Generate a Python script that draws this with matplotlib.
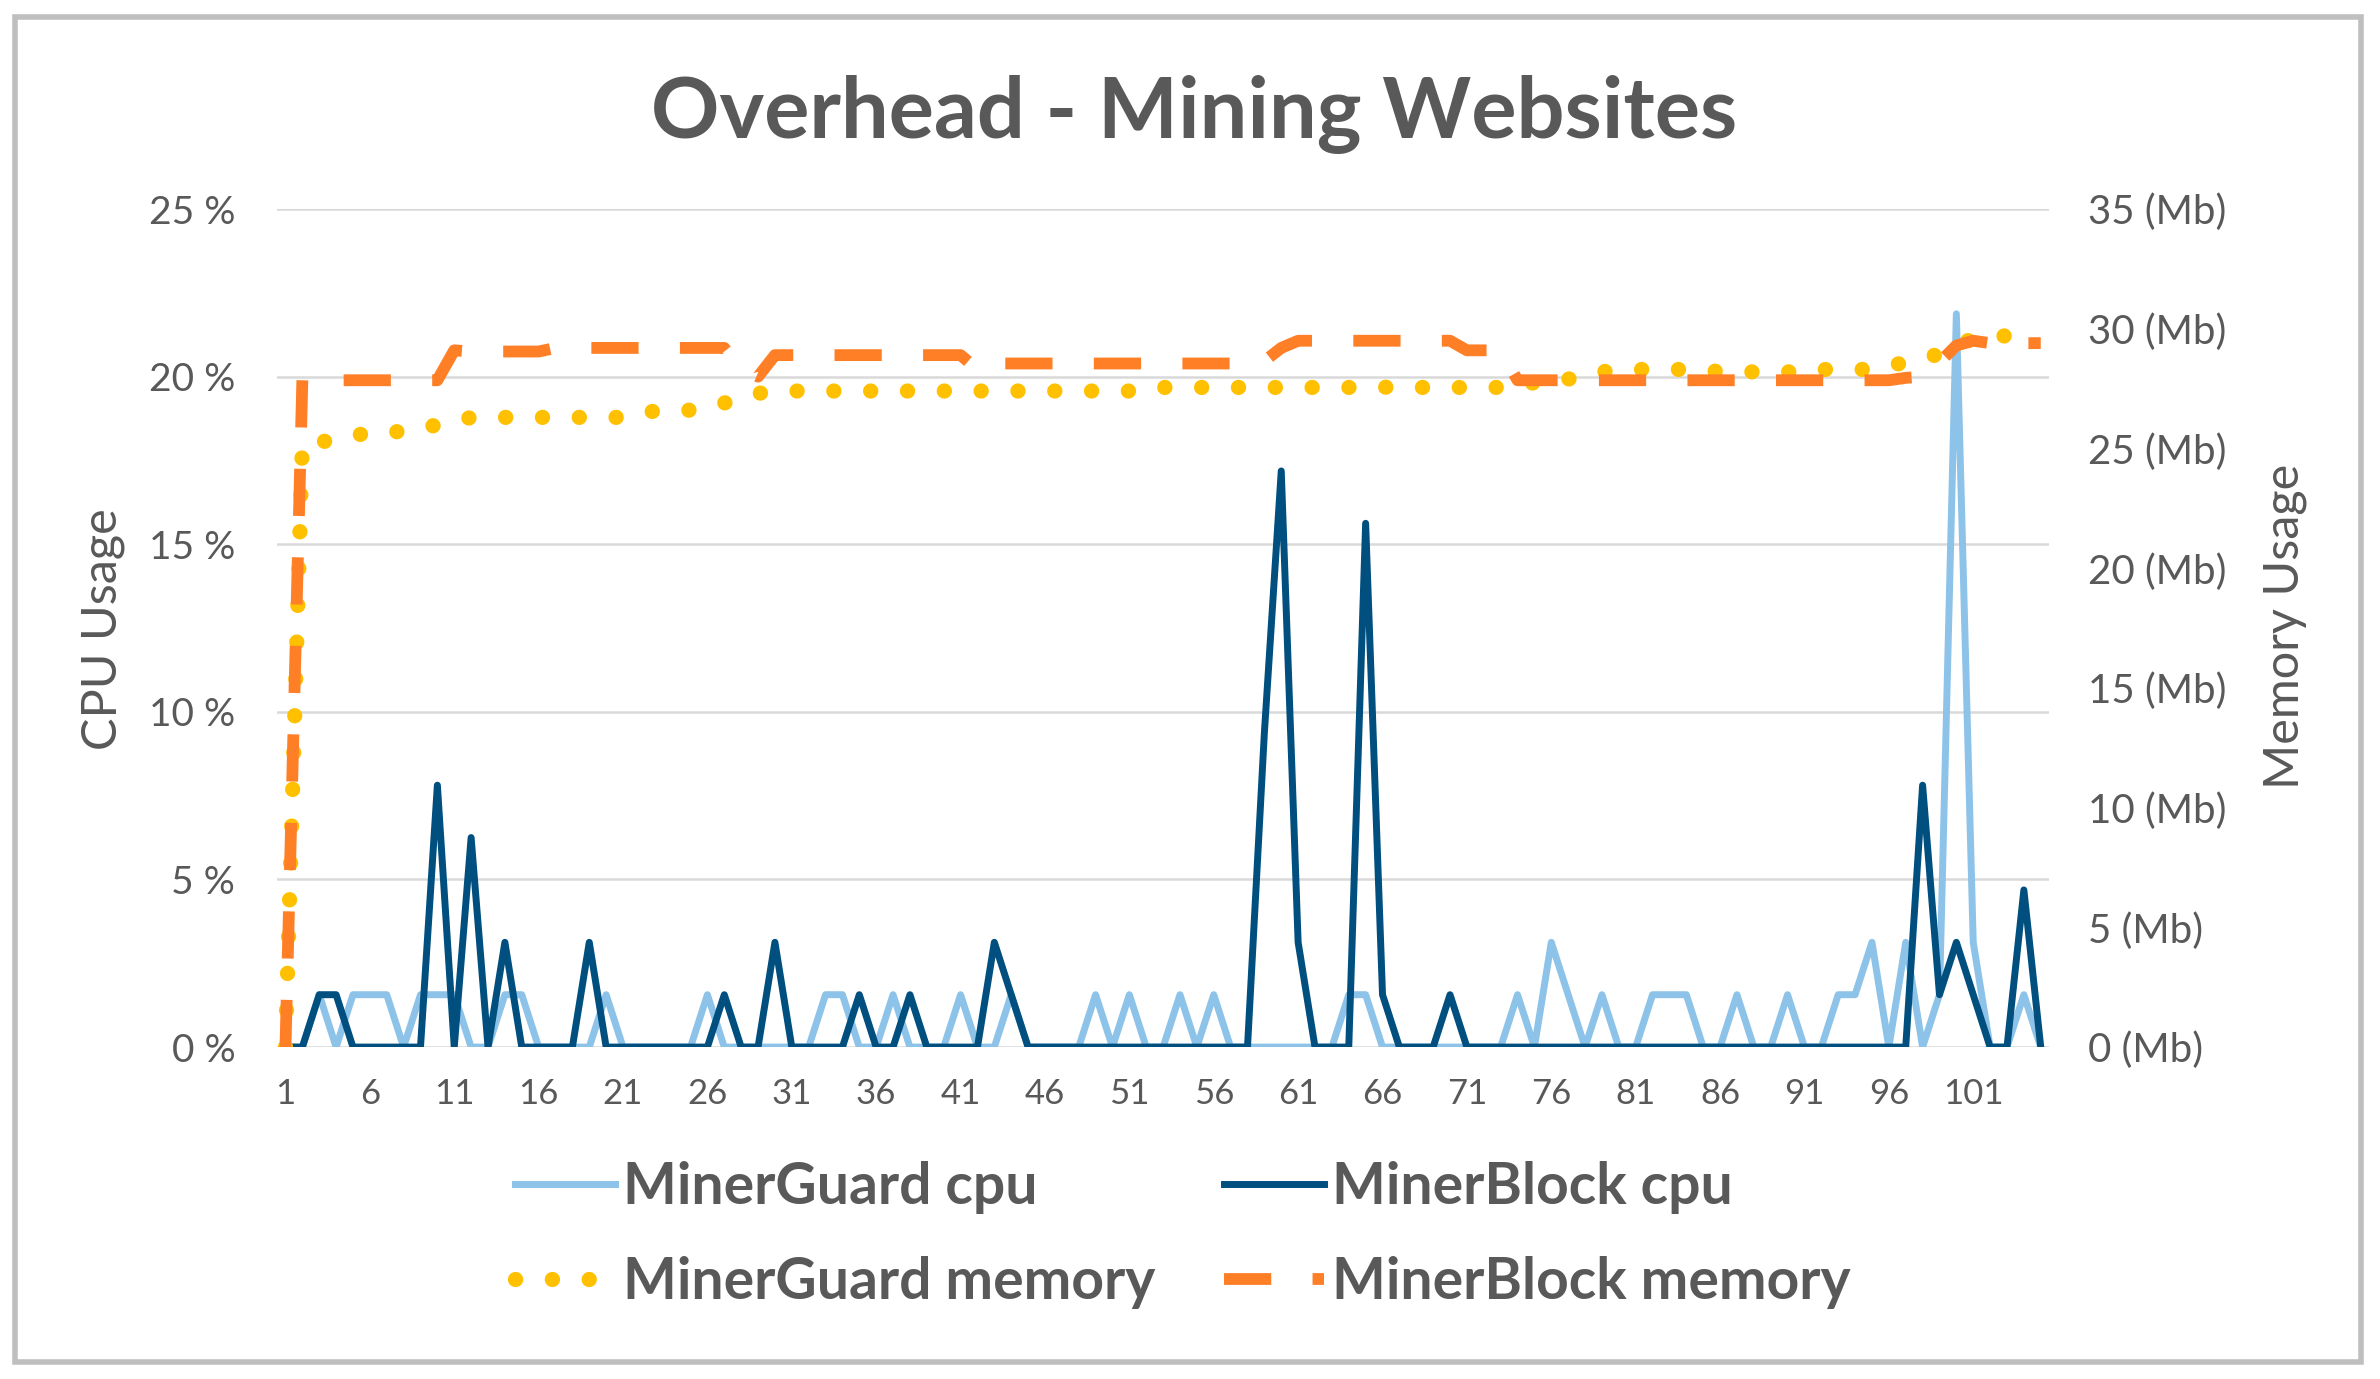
import matplotlib
matplotlib.use("Agg")
import matplotlib.pyplot as plt
from matplotlib.patches import Rectangle

# data (x = run number 1..105)
runs = list(range(1, 106))

guard_cpu = [0, 0, 1.5625, 0, 1.5625, 1.5625, 1.5625, 0, 1.5625, 1.5625,
             1.5625, 0, 0, 1.5625, 1.5625, 0, 0, 0, 0, 1.5625,
             0, 0, 0, 0, 0, 1.5625, 0, 0, 0, 0,
             0, 0, 1.5625, 1.5625, 0, 0, 1.5625, 0, 0, 0,
             1.5625, 0, 0, 1.5625, 0, 0, 0, 0, 1.5625, 0,
             1.5625, 0, 0, 1.5625, 0, 1.5625, 0, 0, 0, 0,
             0, 0, 0, 1.5625, 1.5625, 0, 0, 0, 0, 0,
             0, 0, 0, 1.5625, 0, 3.125, 1.5625, 0, 1.5625, 0,
             0, 1.5625, 1.5625, 1.5625, 0, 0, 1.5625, 0, 0, 1.5625,
             0, 0, 1.5625, 1.5625, 3.125, 0, 3.125, 0, 1.5625, 21.875,
             3.125, 0, 0, 1.5625, 0]

block_cpu = [0, 0, 1.5625, 1.5625, 0, 0, 0, 0, 0, 7.8125,
             0, 6.25, 0, 3.125, 0, 0, 0, 0, 3.125, 0,
             0, 0, 0, 0, 0, 0, 1.5625, 0, 0, 3.125,
             0, 0, 0, 0, 1.5625, 0, 0, 1.5625, 0, 0,
             0, 0, 3.125, 1.5625, 0, 0, 0, 0, 0, 0,
             0, 0, 0, 0, 0, 0, 0, 0, 9.375, 17.1875,
             3.125, 0, 0, 0, 15.625, 1.5625, 0, 0, 0, 1.5625,
             0, 0, 0, 0, 0, 0, 0, 0, 0, 0,
             0, 0, 0, 0, 0, 0, 0, 0, 0, 0,
             0, 0, 0, 0, 0, 0, 0, 7.8125, 1.5625, 3.125,
             1.5625, 0, 0, 4.6875, 0]

guard_mem = [0, 25.2, 25.3, 25.3, 25.5, 25.7, 25.7, 25.7, 25.8, 26.0,
             26.1, 26.3, 26.3, 26.3, 26.3, 26.3, 26.3, 26.3, 26.3, 26.3,
             26.3, 26.4, 26.6, 26.6, 26.6, 26.7, 26.9, 27.1, 27.3, 27.4,
             27.4, 27.4, 27.4, 27.4, 27.4, 27.4, 27.4, 27.4, 27.4, 27.4,
             27.4, 27.4, 27.4, 27.4, 27.4, 27.4, 27.4, 27.4, 27.4, 27.4,
             27.4, 27.55, 27.55, 27.55, 27.55, 27.55, 27.55, 27.55, 27.55, 27.55,
             27.55, 27.55, 27.55, 27.55, 27.55, 27.55, 27.6, 27.55, 27.55, 27.55,
             27.55, 27.55, 27.55, 27.6, 27.75, 27.9, 27.9, 28.0, 28.2, 28.3,
             28.3, 28.3, 28.3, 28.3, 28.3, 28.2, 28.2, 28.2, 28.2, 28.2,
             28.2, 28.3, 28.3, 28.3, 28.3, 28.45, 28.6, 28.75, 28.95, 29.3,
             29.6, 29.7, 29.7, 29.7, 29.7]

block_mem = [0, 27.85, 27.85, 27.85, 27.85, 27.85, 27.85, 27.85, 27.85, 27.85,
             29.1, 29.05, 29.05, 29.05, 29.05, 29.05, 29.2, 29.2, 29.2, 29.2,
             29.2, 29.2, 29.2, 29.2, 29.2, 29.2, 29.2, 28.3, 28.0, 28.9,
             28.9, 28.9, 28.9, 28.9, 28.9, 28.9, 28.9, 28.9, 28.9, 28.9,
             28.9, 28.3, 28.55, 28.55, 28.55, 28.55, 28.55, 28.55, 28.55, 28.55,
             28.55, 28.55, 28.55, 28.55, 28.55, 28.55, 28.55, 28.55, 28.65, 29.2,
             29.5, 29.5, 29.5, 29.5, 29.5, 29.5, 29.5, 29.5, 29.5, 29.5,
             29.1, 29.1, 29.1, 27.85, 27.85, 27.85, 27.85, 27.85, 27.85, 27.85,
             27.85, 27.85, 27.85, 27.85, 27.85, 27.85, 27.85, 27.85, 27.85, 27.85,
             27.85, 27.85, 27.85, 27.85, 27.85, 27.85, 27.95, 28.0, 28.6, 29.3,
             29.5, 29.4, 29.4, 29.4, 29.4]

cpu_ticks = [0, 5, 10, 15, 20, 25]
mem_ticks = [0, 5, 10, 15, 20, 25, 30, 35]
x_ticks = list(range(1, 106, 5))

grey = "#595959"
plt.rcParams["font.family"] = ["Lato", "DejaVu Sans"]

fig = plt.figure(figsize=(23.8, 13.79), dpi=100)
ax = fig.add_axes([0.1164, 0.2407, 0.7446, 0.6077])
ax2 = ax.twinx()

l1, = ax.plot(runs, guard_cpu, color="#8dc3e8", lw=5, label="MinerGuard cpu")
l2, = ax.plot(runs, block_cpu, color="#004f7f", lw=5, label="MinerBlock cpu")
l3, = ax2.plot(runs, guard_mem, color="#ffc000", lw=11, linestyle=(0, (0.01, 2.4)),
               dash_capstyle="round", label="MinerGuard memory")
l4, = ax2.plot(runs, block_mem, color="#ff7f27", lw=8.5, linestyle=(0, (4.0, 3.5)),
               dash_capstyle="butt", label="MinerBlock memory")

ax.set_xlim(0.5, 105.5)
ax.set_ylim(0, 25)
ax2.set_ylim(0, 35)
ax.set_xticks(x_ticks)
ax.set_yticks(cpu_ticks)
ax.set_yticklabels([f"{v} %" for v in cpu_ticks])
ax2.set_yticks(mem_ticks)
ax2.set_yticklabels([f"{v} (Mb)" for v in mem_ticks])

ax.grid(axis="y", color="#d9d9d9", lw=1.8)
ax.set_axisbelow(True)
for a in (ax, ax2):
    for s in a.spines.values():
        s.set_visible(False)
ax.tick_params(axis="y", length=0, pad=30, labelsize=28, labelcolor=grey)
ax.tick_params(axis="x", length=0, pad=22, labelsize=25, labelcolor=grey)
ax2.tick_params(axis="y", length=0, pad=28, labelsize=29, labelcolor=grey)

fig.text(0.5017, 0.9007, "Overhead - Mining Websites", ha="center", va="baseline",
         fontsize=61, fontweight="bold", color=grey)
fig.text(0.0433, 0.544, "CPU Usage", rotation=90, ha="center", va="center",
         fontsize=35, color=grey)
fig.text(0.960, 0.546, "Memory Usage", rotation=90, ha="center", va="center",
         fontsize=35, color=grey)

# matplotlib fills legend columns first
fig.legend(handles=[l1, l3, l2, l4], ncol=2, loc="center",
           bbox_to_anchor=(0.497, 0.1044), frameon=False,
           prop={"size": 41, "weight": "bold"}, labelcolor=grey,
           handlelength=1.75, handletextpad=0.15, columnspacing=1.2,
           labelspacing=0.75)

fig.patches.append(Rectangle((15 / 2380, 17 / 1379), 2346 / 2380, 1345 / 1379,
                             transform=fig.transFigure, fill=False,
                             edgecolor="#bfbfbf", lw=4))

fig.savefig("out.png", dpi=100)
